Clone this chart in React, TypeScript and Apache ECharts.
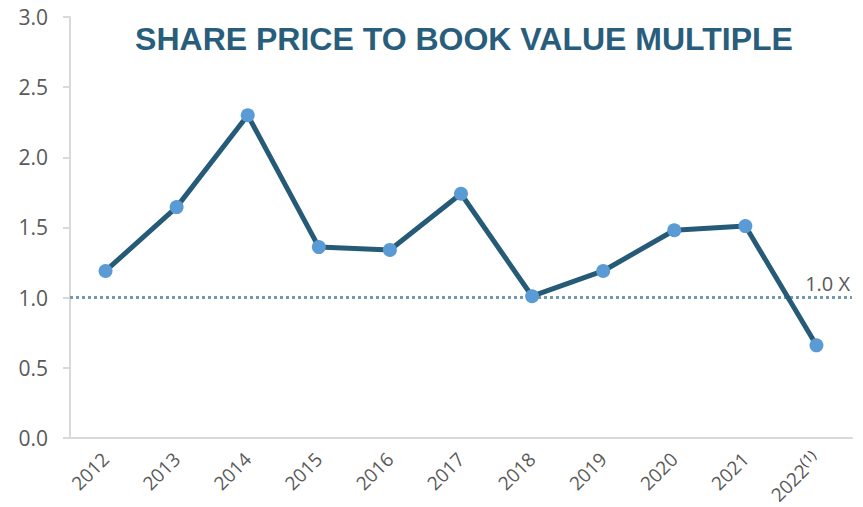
import React, { useEffect, useRef } from "react";
import * as echarts from "echarts";

const categories = ["2012", "2013", "2014", "2015", "2016", "2017", "2018", "2019", "2020", "2021", "2022"];
const multiples = [1.19, 1.645, 2.3, 1.36, 1.34, 1.74, 1.01, 1.19, 1.48, 1.51, 0.66];
const referenceLevel = 1.0;
const referenceLabel = "1.0 X";
const footnoteCategory = "2022";
const footnoteMark = "(1)";
const titleText = "SHARE PRICE TO BOOK VALUE MULTIPLE";

export default function App() {
  const ref = useRef<HTMLDivElement>(null);
  useEffect(() => {
    if (!ref.current) return;
    const chart = echarts.init(ref.current, undefined, { renderer: "svg" });
    chart.setOption({
      animation: false,
      backgroundColor: "#ffffff",
      title: {
        text: titleText,
        left: 459,
        textAlign: "center",
        top: 18,
        textStyle: {
          fontFamily: "Liberation Sans, Arial, sans-serif",
          fontWeight: "bold",
          fontSize: 32,
          color: "#285e7b",
        },
      },
      grid: { left: 70, right: 11, top: 17, bottom: 67, containLabel: false },
      xAxis: {
        type: "category",
        data: categories,
        boundaryGap: true,
        axisLine: { lineStyle: { color: "#d9d9d9", width: 2 } },
        axisTick: { show: false },
        splitLine: { show: false },
        axisLabel: {
          rotate: 45,
          margin: 18,
          fontSize: 19,
          fontFamily: "Open Sans, sans-serif",
          color: "#595959",
          interval: 0,
          formatter: (v: string) => (v === footnoteCategory ? `{a|${v}}{s|${footnoteMark}}` : v),
          rich: {
            a: { fontSize: 19, fontFamily: "Open Sans, sans-serif", color: "#595959" },
            s: { fontSize: 14, fontFamily: "Open Sans, sans-serif", color: "#404040", verticalAlign: "top", padding: [0, 0, 10, 0] },
          },
        },
      },
      yAxis: {
        type: "value",
        min: 0,
        max: 3,
        interval: 0.5,
        axisLine: { show: true, lineStyle: { color: "#d9d9d9", width: 2 } },
        axisTick: { show: true, length: 7, lineStyle: { color: "#d9d9d9", width: 2 } },
        splitLine: { show: false },
        axisLabel: {
          margin: 22,
          fontSize: 21,
          fontFamily: "Open Sans, sans-serif",
          color: "#595959",
          formatter: (v: number) => v.toFixed(1),
        },
      },
      series: [
        {
          type: "line",
          data: multiples,
          lineStyle: { color: "#265b78", width: 5 },
          symbol: "circle",
          symbolSize: 14,
          itemStyle: { color: "#5b9bd5" },
          z: 3,
          markLine: {
            silent: true,
            symbol: ["none", "none"],
            lineStyle: { type: [3, 3], color: "#7399af", width: 3 },
            label: {
              position: "insideEndTop",
              formatter: referenceLabel,
              fontSize: 20,
              fontFamily: "Open Sans, sans-serif",
              color: "#595959",
              distance: [2, 4],
            },
            data: [{ yAxis: referenceLevel }],
            z: 2,
          },
        },
      ],
    });
    return () => chart.dispose();
  }, []);
  return <div ref={ref} style={{ position: "fixed", left: 0, top: 0, width: 863, height: 507 }} />;
}
